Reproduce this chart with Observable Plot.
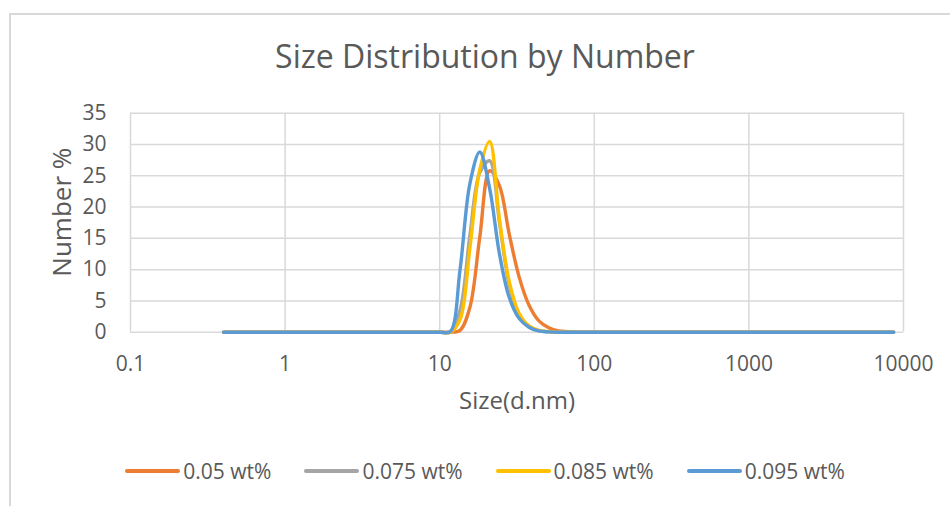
<!DOCTYPE html>
<html><head><meta charset="utf-8">
<script src="https://cdn.jsdelivr.net/npm/d3@7"></script>
<script src="https://cdn.jsdelivr.net/npm/@observablehq/plot@0.6"></script>
<style>
body{margin:0;background:#fff;font-family:"Open Sans",sans-serif;color:#595959}
#wrap{position:relative;width:950px;height:506px;overflow:hidden;background:#fff}
#frame{position:absolute;left:9px;top:13px;width:960px;height:510px;border-top:2px solid #d9d9d9;border-left:2px solid #d9d9d9;pointer-events:none}
#title{position:relative;height:90px;box-sizing:border-box;padding-top:40px;padding-left:20px;text-align:center;font-size:32px;line-height:32px;color:#595959}
#chart{position:relative;height:350px}
#legend{position:relative;display:flex;justify-content:center;align-items:center;gap:33px;height:62px;padding-left:20px;box-sizing:border-box;font-size:21px;color:#595959}
.item{display:flex;align-items:center}
.sw{width:55px;height:4px;border-radius:2px;margin-right:3px}
</style></head>
<body>
<div id="wrap">
  <div id="frame"></div>
  <div id="title">Size Distribution by Number</div>
  <div id="chart"></div>
  <div id="legend"></div>
</div>
<script>
// Size classes (d.nm)
const sizes = [
  0.4, 0.4632, 0.5365, 0.6213, 0.7195, 0.8332, 0.9649, 1.117, 1.294, 1.499,
  1.736, 2.01, 2.328, 2.696, 3.122, 3.615, 4.187, 4.849, 5.615, 6.503,
  7.531, 8.721, 10.1, 11.7, 13.54, 15.69, 18.17, 21.04, 24.36, 28.21,
  32.67, 37.84, 43.82, 50.75, 58.77, 68.06, 78.82, 91.28, 105.7, 122.4,
  141.8, 164.2, 190.1, 220.2, 255, 295.3, 342, 396.1, 458.7, 531.2,
  615.1, 712.4, 825, 955.4, 1106, 1281, 1484, 1718, 1990, 2305,
  2669, 3091, 3580, 4145, 4801, 5560, 6439, 7456, 8635
];
const seriesNames = ["0.05 wt%", "0.075 wt%", "0.085 wt%", "0.095 wt%"];
const seriesColors = ["#ED7D31", "#A5A5A5", "#FFC000", "#5B9BD5"];

const s005 = [
  0,0,0,0,0,0,0,0,0,0, 0,0,0,0,0,0,0,0,0,0, 0,0,
  0, 0, 0.3, 4.0, 15.2, 25.8, 23.4, 15.6, 8.8, 4.3, 1.8, 0.7, 0.2, 0.1,
  0,0,0,0,0,0,0,0,0,0, 0,0,0,0,0,0,0,0,0,0, 0,0,0,0,0,0,0,0,0,0, 0,0,0
];
const s0075 = [
  0,0,0,0,0,0,0,0,0,0, 0,0,0,0,0,0,0,0,0,0, 0,0,
  0, 0, 3.5, 15.5, 25.5, 27.4, 17.5, 7.5, 2.6, 0.8, 0.2, 0.05, 0, 0,
  0,0,0,0,0,0,0,0,0,0, 0,0,0,0,0,0,0,0,0,0, 0,0,0,0,0,0,0,0,0,0, 0,0,0
];
const s0085 = [
  0,0,0,0,0,0,0,0,0,0, 0,0,0,0,0,0,0,0,0,0, 0,0,
  0, 0, 2.0, 13.5, 26.0, 30.5, 18.0, 8.0, 3.0, 1.0, 0.3, 0.1, 0, 0,
  0,0,0,0,0,0,0,0,0,0, 0,0,0,0,0,0,0,0,0,0, 0,0,0,0,0,0,0,0,0,0, 0,0,0
];
const s0095 = [
  0,0,0,0,0,0,0,0,0,0, 0,0,0,0,0,0,0,0,0,0, 0,0,
  0, 0.1, 10.0, 23.8, 28.8, 23.0, 12.5, 5.5, 2.2, 0.8, 0.2, 0.05, 0, 0,
  0,0,0,0,0,0,0,0,0,0, 0,0,0,0,0,0,0,0,0,0, 0,0,0,0,0,0,0,0,0,0, 0,0,0
];

const xTicks = [0.1, 1, 10, 100, 1000, 10000];
const xTickLabels = ["0.1", "1", "10", "100", "1000", "10000"];
const yTicks = [0, 5, 10, 15, 20, 25, 30, 35];
const xTitle = "Size(d.nm)";
const yTitle = "Number %";

const allSeries = [s005, s0075, s0085, s0095];
const rows = [];
allSeries.forEach((vals, k) => vals.forEach((v, i) => rows.push({series: seriesNames[k], size: sizes[i], value: v})));

const grid = {stroke: "#d9d9d9", strokeOpacity: 1, strokeWidth: 1.5};

const chart = Plot.plot({
  width: 950,
  height: 350,
  marginLeft: 130,
  marginRight: 47,
  marginTop: 22.7,
  marginBottom: 108.3,
  style: {fontFamily: "Open Sans", fontSize: "21px", color: "#595959", background: "transparent", overflow: "visible"},
  x: {type: "log", domain: [0.1, 10000]},
  y: {domain: [0, 35]},
  color: {domain: seriesNames, range: seriesColors},
  marks: [
    Plot.gridX(xTicks, grid),
    Plot.gridY(yTicks, grid),
    Plot.axisX(xTicks, {tickSize: 0, tickPadding: 23.5, tickFormat: d => xTickLabels[xTicks.indexOf(d)], label: null}),
    Plot.axisY(yTicks, {tickSize: 0, tickPadding: 24, label: null}),
    Plot.text([xTitle], {frameAnchor: "bottom", dy: 77, fontSize: 24, fill: "#595959"}),
    Plot.text([yTitle], {frameAnchor: "left", textAnchor: "middle", lineAnchor: "middle", rotate: -90, dx: -67.5, dy: -10.5, fontSize: 26, fill: "#595959"}),
    Plot.line(rows, {x: "size", y: "value", z: "series", stroke: "series", strokeWidth: 3.4, curve: "catmull-rom", strokeLinejoin: "round", strokeLinecap: "round"})
  ]
});
document.getElementById("chart").appendChild(chart);

const legend = document.getElementById("legend");
seriesNames.forEach((name, k) => {
  const item = document.createElement("div");
  item.className = "item";
  const sw = document.createElement("div");
  sw.className = "sw";
  sw.style.background = seriesColors[k];
  const lab = document.createElement("span");
  lab.textContent = name;
  item.appendChild(sw);
  item.appendChild(lab);
  legend.appendChild(item);
});
</script>
</body></html>
